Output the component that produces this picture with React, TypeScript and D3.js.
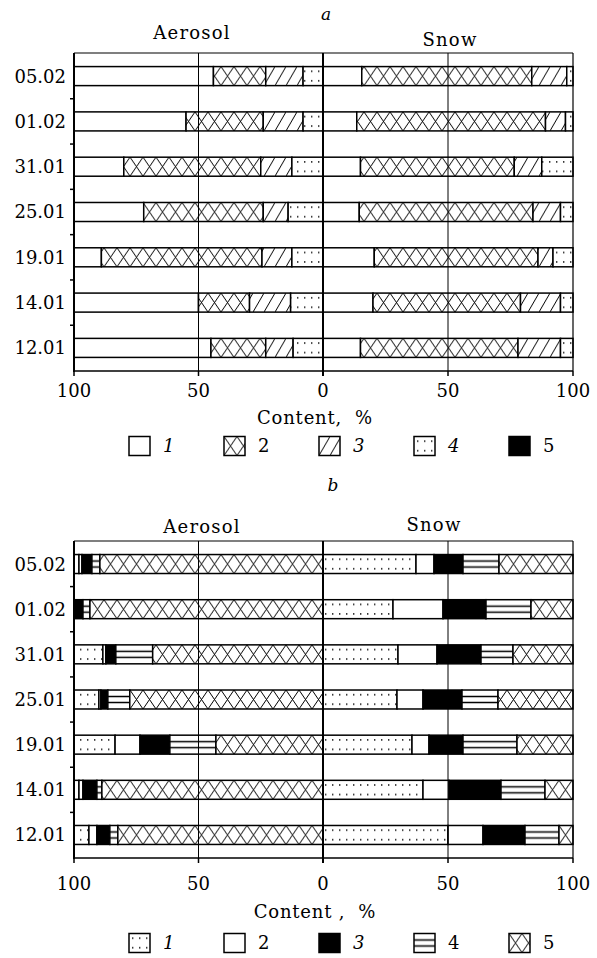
import React from "react";
import * as d3 from "d3";

// ---------- data ----------
const dates = ["05.02", "01.02", "31.01", "25.01", "19.01", "14.01", "12.01"];
const axisTicks = [100, 50, 0, 50, 100];
const legendLabels = ["1", "2", "3", "4", "5"];

// Panel a (1 blank, 2 cross, 3 hatch, 4 dots, 5 black)
const aAerosol1 = [56, 45, 20, 28, 11, 50, 55];
const aAerosol2 = [21, 31, 55, 48, 64.5, 20.5, 22];
const aAerosol3 = [15, 16, 12.5, 10, 12, 16.5, 11];
const aAerosol4 = [8, 8, 12.5, 14, 12.5, 13, 12];
const aAerosol5 = [0, 0, 0, 0, 0, 0, 0];
const aSnow1 = [15.5, 13.5, 15, 14.5, 20.5, 20, 15];
const aSnow2 = [68, 75.5, 61.5, 69.5, 65.5, 59, 63];
const aSnow3 = [14, 8, 11, 11, 6, 16, 17];
const aSnow4 = [2.5, 3, 12.5, 5, 8, 5, 5];
const aSnow5 = [0, 0, 0, 0, 0, 0, 0];

// Panel b (1 dots, 2 blank, 3 black, 4 lines, 5 cross)
const bAerosol1 = [2, 0, 11.6, 10, 16.5, 2, 6];
const bAerosol2 = [1.2, 0, 1.2, 0.8, 10, 1.6, 3.2];
const bAerosol3 = [4, 3.6, 4, 2.8, 12, 5.6, 5.2];
const bAerosol4 = [3.2, 2.8, 14.8, 8.8, 18.5, 2, 3.2];
const bAerosol5 = [89.6, 93.6, 68.4, 77.6, 43, 88.8, 82.4];
const bSnow1 = [37.2, 28, 30, 29.6, 35.6, 40, 50];
const bSnow2 = [7.2, 20, 15.6, 10.4, 6.8, 10.4, 14];
const bSnow3 = [11.6, 17.2, 17.6, 15.6, 13.6, 20.8, 16.8];
const bSnow4 = [14.4, 18, 12.8, 14.4, 21.6, 17.6, 13.6];
const bSnow5 = [29.6, 16.8, 24, 30, 22.4, 11.2, 5.6];

const keys = ["s1", "s2", "s3", "s4", "s5"];
const table = (series: number[][]) =>
  dates.map((d, i) => {
    const row: any = { date: d };
    keys.forEach((k, j) => (row[k] = series[j][i]));
    return row;
  });

const FONT = "'DejaVu Serif', serif";
const X_LEFT = 74;
const X_ZERO = 323;
const X_RIGHT = 573;

const xAer = d3.scaleLinear().domain([0, 100]).range([X_ZERO, X_LEFT]);
const xSnow = d3.scaleLinear().domain([0, 100]).range([X_ZERO, X_RIGHT]);

type PanelCfg = {
  letter: string;
  letterX: number;
  letterY: number;
  aerX: number;
  aerY: number;
  snowX: number;
  snowY: number;
  top: number;
  bottom: number;
  tickY: number;
  contentY: number;
  contentText: string;
  legendY: number;
  aer: number[][];
  snow: number[][];
  fills: string[];
  legendItalic: boolean[];
};

const stack = d3.stack<any>().keys(keys);

function Panel({ c }: { c: PanelCfg }) {
  const y = d3
    .scaleBand<string>()
    .domain(dates)
    .range([c.top, c.bottom])
    .paddingInner(0.58)
    .paddingOuter(0.3);
  const bw = y.bandwidth();
  const gap = y.step() - bw;
  const aerStack = stack(table(c.aer));
  const snowStack = stack(table(c.snow));

  return (
    <g>
      <text x={c.letterX} y={c.letterY} fontFamily={FONT} fontStyle="italic" fontSize={17} textAnchor="middle">
        {c.letter}
      </text>
      <text x={c.aerX} y={c.aerY} fontFamily={FONT} fontSize={18} letterSpacing={1.2} textAnchor="middle">
        Aerosol
      </text>
      <text x={c.snowX} y={c.snowY} fontFamily={FONT} fontSize={18} letterSpacing={1.2} textAnchor="middle">
        Snow
      </text>

      {/* bars */}
      {dates.map((d, i) => (
        <g key={d} transform={`translate(0,${y(d)})`}>
          {aerStack.map((s, j) => {
            const v = s[i];
            if (v[1] - v[0] <= 0) return null;
            const x0 = xAer(100 - v[0]);
            const x1 = xAer(100 - v[1]);
            return (
              <rect key={"a" + j} x={Math.min(x0, x1)} y={0} width={Math.abs(x1 - x0)} height={bw}
                fill={c.fills[j]} stroke="#000" strokeWidth={1.5} />
            );
          })}
          {snowStack.map((s, j) => {
            const v = s[i];
            if (v[1] - v[0] <= 0) return null;
            const x0 = xSnow(v[0]);
            const x1 = xSnow(v[1]);
            return (
              <rect key={"s" + j} x={x0} y={0} width={x1 - x0} height={bw}
                fill={c.fills[j]} stroke="#000" strokeWidth={1.5} />
            );
          })}
        </g>
      ))}

      {/* grid lines at 50 */}
      <line x1={xAer(50)} x2={xAer(50)} y1={c.top} y2={c.bottom} stroke="#000" strokeWidth={1} />
      <line x1={xSnow(50)} x2={xSnow(50)} y1={c.top} y2={c.bottom} stroke="#000" strokeWidth={1} />
      {/* frame */}
      <line x1={X_LEFT} x2={X_RIGHT} y1={c.top} y2={c.top} stroke="#000" strokeWidth={1.2} />
      <line x1={X_LEFT} x2={X_RIGHT} y1={c.bottom} y2={c.bottom} stroke="#000" strokeWidth={1.5} />
      <line x1={X_RIGHT} x2={X_RIGHT} y1={c.top} y2={c.bottom} stroke="#000" strokeWidth={1.2} />
      <line x1={X_LEFT} x2={X_LEFT} y1={c.top} y2={c.bottom + 1} stroke="#000" strokeWidth={2} />
      <line x1={X_ZERO} x2={X_ZERO} y1={c.top} y2={c.bottom + 5} stroke="#000" strokeWidth={2} />

      {/* left ticks between rows */}
      {dates.slice(1).map((d) => {
        const yy = (y(d) as number) - gap / 2;
        return <line key={"t" + d} x1={X_LEFT - 4} x2={X_LEFT} y1={yy} y2={yy} stroke="#000" strokeWidth={1.5} />;
      })}
      {/* date labels */}
      {dates.map((d) => (
        <text key={"l" + d} x={66} y={(y(d) as number) + bw / 2} dy="0.36em" fontFamily={FONT} fontSize={18}
          textAnchor="end">
          {d}
        </text>
      ))}

      {/* bottom ticks */}
      {axisTicks.map((t, i) => {
        const xx = i < 2 ? xAer(t) : xSnow(t);
        return (
          <g key={"bt" + i}>
            <line x1={xx} x2={xx} y1={c.bottom} y2={c.bottom + 5} stroke="#000" strokeWidth={1.5} />
            <text x={xx} y={c.tickY} fontFamily={FONT} fontSize={18} textAnchor="middle">
              {t}
            </text>
          </g>
        );
      })}
      <text x={315} y={c.contentY} fontFamily={FONT} fontSize={18} letterSpacing={0.8} textAnchor="middle"
        style={{ whiteSpace: "pre" }}>
        {c.contentText}
      </text>

      {/* legend */}
      {legendLabels.map((l, i) => {
        const lx = 129 + i * 95;
        return (
          <g key={"lg" + l}>
            <g transform={`translate(${lx},${c.legendY - 9.5})`}>
              <rect x={0} y={0} width={21} height={19} fill={c.fills[i]} stroke="#000" strokeWidth={1.5} />
            </g>
            <text x={lx + 34} y={c.legendY} dy="0.36em" fontFamily={FONT} fontSize={18}
              fontStyle={c.legendItalic[i] ? "italic" : "normal"}>
              {l}
            </text>
          </g>
        );
      })}
    </g>
  );
}

const panelA: PanelCfg = {
  letter: "a",
  letterX: 326,
  letterY: 20,
  aerX: 192,
  aerY: 39,
  snowX: 450,
  snowY: 46,
  top: 53,
  bottom: 371,
  tickY: 397,
  contentY: 424,
  contentText: "Content,  %",
  legendY: 446,
  aer: [aAerosol1, aAerosol2, aAerosol3, aAerosol4, aAerosol5],
  snow: [aSnow1, aSnow2, aSnow3, aSnow4, aSnow5],
  fills: ["#fff", "url(#pCross)", "url(#pHatch)", "url(#pDots)", "#000"],
  legendItalic: [true, false, true, true, false],
};

const panelB: PanelCfg = {
  letter: "b",
  letterX: 333,
  letterY: 491,
  aerX: 202,
  aerY: 533,
  snowX: 434,
  snowY: 531,
  top: 541,
  bottom: 858,
  tickY: 890,
  contentY: 918,
  contentText: "Content ,  %",
  legendY: 943,
  aer: [bAerosol1, bAerosol2, bAerosol3, bAerosol4, bAerosol5],
  snow: [bSnow1, bSnow2, bSnow3, bSnow4, bSnow5],
  fills: ["url(#pDots)", "#fff", "#000", "url(#pLines)", "url(#pCross)"],
  legendItalic: [true, false, true, false, false],
};

export default function App() {
  return (
    <svg width={597} height={958} viewBox="0 0 597 958"
      style={{ position: "absolute", left: 0, top: 0, background: "#fff" }}>
      <defs>
        <pattern id="pCross" patternUnits="userSpaceOnUse" width={13} height={19}>
          <rect width={13} height={19} fill="#fff" />
          <path d="M0,0 L13,19 M13,0 L0,19" stroke="#000" strokeWidth={1} fill="none" />
        </pattern>
        <pattern id="pHatch" patternUnits="userSpaceOnUse" width={11} height={19}>
          <rect width={11} height={19} fill="#fff" />
          <path d="M0,19 L11,0" stroke="#000" strokeWidth={1} fill="none" />
        </pattern>
        <pattern id="pDots" patternUnits="userSpaceOnUse" width={7} height={9.5}>
          <rect width={7} height={9.5} fill="#fff" />
          <rect x={3} y={4} width={1.4} height={1.4} fill="#000" />
        </pattern>
        <pattern id="pLines" patternUnits="userSpaceOnUse" width={10} height={19}>
          <rect width={10} height={19} fill="#fff" />
          <path d="M0,6.5 L10,6.5 M0,12.5 L10,12.5" stroke="#000" strokeWidth={1.3} fill="none" />
        </pattern>
      </defs>
      <rect width={597} height={958} fill="#fff" />
      <Panel c={panelA} />
      <Panel c={panelB} />
    </svg>
  );
}
